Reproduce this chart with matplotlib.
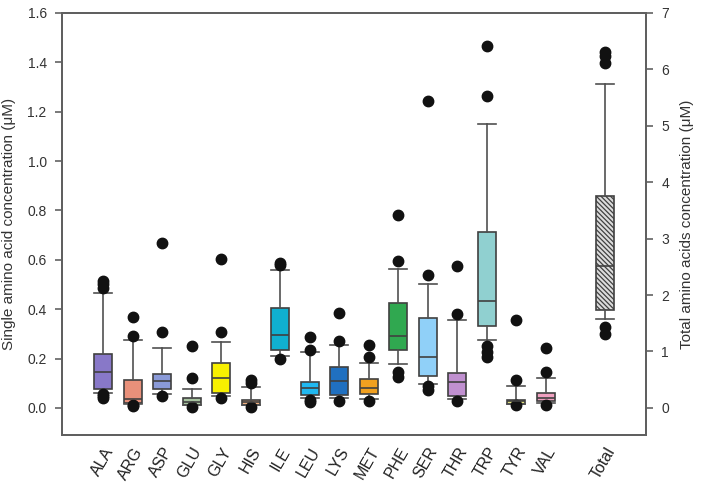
import matplotlib
matplotlib.use("Agg")
import matplotlib.pyplot as plt

plt.rcParams['font.family'] = ['Liberation Sans', 'DejaVu Sans']
plt.rcParams['hatch.color'] = '#303030'
plt.rcParams['hatch.linewidth'] = 0.9

amino = ["ALA", "ARG", "ASP", "GLU", "GLY", "HIS", "ILE", "LEU", "LYS", "MET",
         "PHE", "SER", "THR", "TRP", "TYR", "VAL"]
q1 = [0.077, 0.019, 0.077, 0.012, 0.060, 0.012, 0.236, 0.053, 0.053, 0.056,
      0.233, 0.130, 0.049, 0.330, 0.016, 0.026]
med = [0.147, 0.035, 0.107, 0.023, 0.123, 0.022, 0.296, 0.080, 0.110, 0.080,
       0.292, 0.208, 0.103, 0.432, 0.026, 0.042]
q3 = [0.218, 0.114, 0.137, 0.038, 0.181, 0.030, 0.405, 0.103, 0.164, 0.118,
      0.425, 0.364, 0.141, 0.712, 0.032, 0.062]
whislo = [0.062, 0.015, 0.057, 0.010, 0.050, 0.010, 0.211, 0.040, 0.039, 0.037,
          0.177, 0.096, 0.037, 0.276, 0.014, 0.020]
whishi = [0.466, 0.273, 0.242, 0.077, 0.265, 0.084, 0.560, 0.225, 0.253, 0.181,
          0.563, 0.500, 0.355, 1.149, 0.090, 0.123]
fliers = [
    [0.513, 0.500, 0.487, 0.055, 0.049, 0.042],
    [0.368, 0.290, 0.010, 0.006],
    [0.669, 0.306, 0.049],
    [0.249, 0.120, 0.005],
    [0.604, 0.306, 0.039],
    [0.114, 0.100, 0.005],
    [0.588, 0.577, 0.200],
    [0.287, 0.236, 0.032, 0.025],
    [0.384, 0.269, 0.026],
    [0.253, 0.208, 0.026],
    [0.780, 0.597, 0.147, 0.127],
    [1.244, 0.540, 0.087, 0.073],
    [0.574, 0.382, 0.026],
    [1.465, 1.264, 0.249, 0.228, 0.208],
    [0.357, 0.114, 0.012],
    [0.242, 0.147, 0.012],
]
colors = ["#8878c8", "#e8907a", "#8a9ad8", "#a8c4a0", "#f8f000", "#f0b080",
          "#10b0d0", "#20b8f0", "#2070c0", "#f0a020", "#30a850", "#90d0f8",
          "#c090d0", "#90d0d0", "#e0e080", "#f0a0c0"]

total_label = "Total"
total_q1, total_med, total_q3 = 1.74, 2.52, 3.75
total_whislo, total_whishi = 1.58, 5.75
total_fliers = [6.30, 6.23, 6.12, 1.43, 1.31]

positions = list(range(len(amino)))
total_pos = len(amino) + 1

fig = plt.figure(figsize=(7.11, 4.90), dpi=100)
ax = fig.add_axes([0.0872, 0.1122, 0.8214, 0.8613])

stats = []
for i in range(len(amino)):
    stats.append(dict(label=amino[i], q1=q1[i], med=med[i], q3=q3[i],
                      whislo=whislo[i], whishi=whishi[i], fliers=fliers[i]))

edge = '#404040'
bw = 0.62
common = dict(patch_artist=True, showfliers=True,
              boxprops=dict(edgecolor=edge, linewidth=1.2),
              medianprops=dict(color=edge, linewidth=1.2),
              whiskerprops=dict(color='#505050', linewidth=1.2),
              capprops=dict(color='#505050', linewidth=1.2),
              flierprops=dict(marker='o', markerfacecolor='#111111',
                              markeredgecolor='#111111', markersize=7.5))
bp = ax.bxp(stats, positions=positions, widths=bw, capwidths=bw, **common)
for patch, c in zip(bp['boxes'], colors):
    patch.set_facecolor(c)

ax2 = ax.twinx()
tstats = [dict(label=total_label, q1=total_q1, med=total_med, q3=total_q3,
               whislo=total_whislo, whishi=total_whishi, fliers=total_fliers)]
bp2 = ax2.bxp(tstats, positions=[total_pos], widths=bw, capwidths=bw, **common)
for patch in bp2['boxes']:
    patch.set_facecolor('#dcdcdc')
    patch.set_hatch('\\\\\\\\\\\\\\')

ax.set_xlim(-1.4, 18.4)
ax.set_ylim(-0.11, 1.6)
ax2.set_ylim(-0.11 * 7 / 1.6, 7)

ax.set_yticks([0.0, 0.2, 0.4, 0.6, 0.8, 1.0, 1.2, 1.4, 1.6])
ax.set_yticklabels(["0.0", "0.2", "0.4", "0.6", "0.8", "1.0", "1.2", "1.4", "1.6"])
ax2.set_yticks(range(0, 8))

ax.set_xticks(positions + [total_pos])
ax.set_xticklabels(amino + [total_label], rotation=60, ha='right',
                   rotation_mode='anchor', fontsize=11.5, color='#222222')
ax.tick_params(axis='x', length=0, pad=7)
ax.tick_params(axis='y', direction='out', length=5, width=1.1, color='#555555',
               labelsize=10, labelcolor='#333333', pad=6)
ax2.tick_params(axis='y', direction='out', length=5, width=1.1, color='#555555',
                labelsize=10, labelcolor='#333333', pad=6)

for a in (ax, ax2):
    for s in a.spines.values():
        s.set_color('#606060')
        s.set_linewidth(1.4)

ax.set_ylabel("Single amino acid concentration (μM)", fontsize=11, color='#333333',
              labelpad=8)
ax2.set_ylabel("Total amino acids concentration (μM)", fontsize=11, color='#333333',
               labelpad=8)

fig.savefig("out.png", dpi=100)
